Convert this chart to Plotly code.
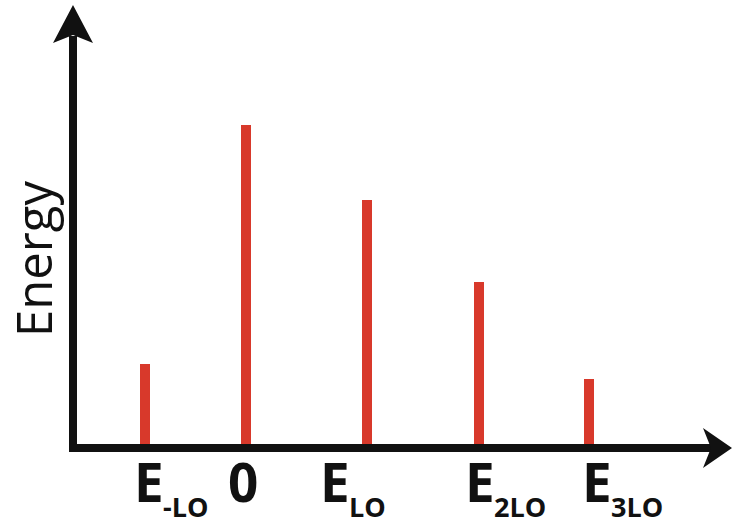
import plotly.graph_objects as go

W, H = 733, 527

# Raman lines: shift (in units of the LO phonon energy) and relative intensity
shift = [-1.0, 0.0, 1.2, 2.31, 3.4]
intensity = [0.26, 1.0, 0.768, 0.514, 0.214]
label_main = ["E", "0", "E", "E", "E"]
label_sub = ["-LO", "", "LO", "2LO", "3LO"]
y_title = "Energy"

LINE_RED = "#d8392b"
INK = "#111111"

# fixed axis ranges so that one unit of shift is ~101 px and unit intensity ~323 px
XR = [-2.4356, 4.8218]
YR = [-0.2446, 1.387]


def P(px, py):
    """pixel position -> paper coordinates"""
    return px / W, 1 - py / H


def path(points):
    pts = [P(x, y) for x, y in points]
    return "M " + " L ".join(f"{x:.5f},{y:.5f}" for x, y in pts) + " Z"


fig = go.Figure()
fig.add_trace(go.Bar(
    x=shift, y=intensity, width=0.1,
    marker=dict(color=LINE_RED, line=dict(width=0)),
    hoverinfo="skip",
))

shapes = []
# vertical axis shaft + arrow head
x0, y0 = P(69, 452)
x1, y1 = P(77, 36)
shapes.append(dict(type="rect", xref="paper", yref="paper", x0=x0, y0=y0, x1=x1, y1=y1,
                   fillcolor=INK, line=dict(width=0), layer="above"))
shapes.append(dict(type="path", xref="paper", yref="paper",
                   path=path([(73, 5), (93, 43), (73, 35), (53, 43)]),
                   fillcolor=INK, line=dict(width=0), layer="above"))
# horizontal axis shaft + arrow head
x0, y0 = P(69, 452)
x1, y1 = P(712, 444)
shapes.append(dict(type="rect", xref="paper", yref="paper", x0=x0, y0=y0, x1=x1, y1=y1,
                   fillcolor=INK, line=dict(width=0), layer="above"))
shapes.append(dict(type="path", xref="paper", yref="paper",
                   path=path([(732, 448), (703, 428), (711, 448), (703, 468)]),
                   fillcolor=INK, line=dict(width=0), layer="above"))

annotations = []
main_font = dict(family="Open Sans", size=53, color=INK)
sub_font = dict(family="Open Sans", size=27, color=INK)
main_dx = [-13, -3, -49, -16, -9]
for s, m, sub, dx in zip(shift, label_main, label_sub, main_dx):
    if sub:
        annotations.append(dict(x=s, xref="x", y=P(0, 482)[1], yref="paper",
                                text=f"<b>{m}</b>", showarrow=False, font=main_font,
                                xanchor="left", yanchor="middle", xshift=dx))
        # subscript sits on the bottom edge of the page
        annotations.append(dict(x=s, xref="x", y=0, yref="paper",
                                text=f"<b>{sub}</b>", showarrow=False, font=sub_font,
                                xanchor="left", yanchor="bottom", xshift=dx + 29))
    else:
        annotations.append(dict(x=s, xref="x", y=P(0, 482)[1], yref="paper",
                                text=f"<b>{m}</b>", showarrow=False, font=main_font,
                                xanchor="center", yanchor="middle", xshift=dx))

annotations.append(dict(x=P(33, 0)[0], y=P(0, 259)[1], xref="paper", yref="paper",
                        text=y_title, textangle=-90, showarrow=False,
                        font=dict(family="Open Sans", size=49, color=INK),
                        xanchor="center", yanchor="middle"))

fig.update_layout(
    width=W, height=H,
    margin=dict(l=0, r=0, t=0, b=0),
    paper_bgcolor="white", plot_bgcolor="white",
    showlegend=False,
    xaxis=dict(range=XR, visible=False, fixedrange=True),
    yaxis=dict(range=YR, visible=False, fixedrange=True),
    shapes=shapes, annotations=annotations,
    bargap=0,
)

fig.write_html("out.html", config={"displayModeBar": False})
